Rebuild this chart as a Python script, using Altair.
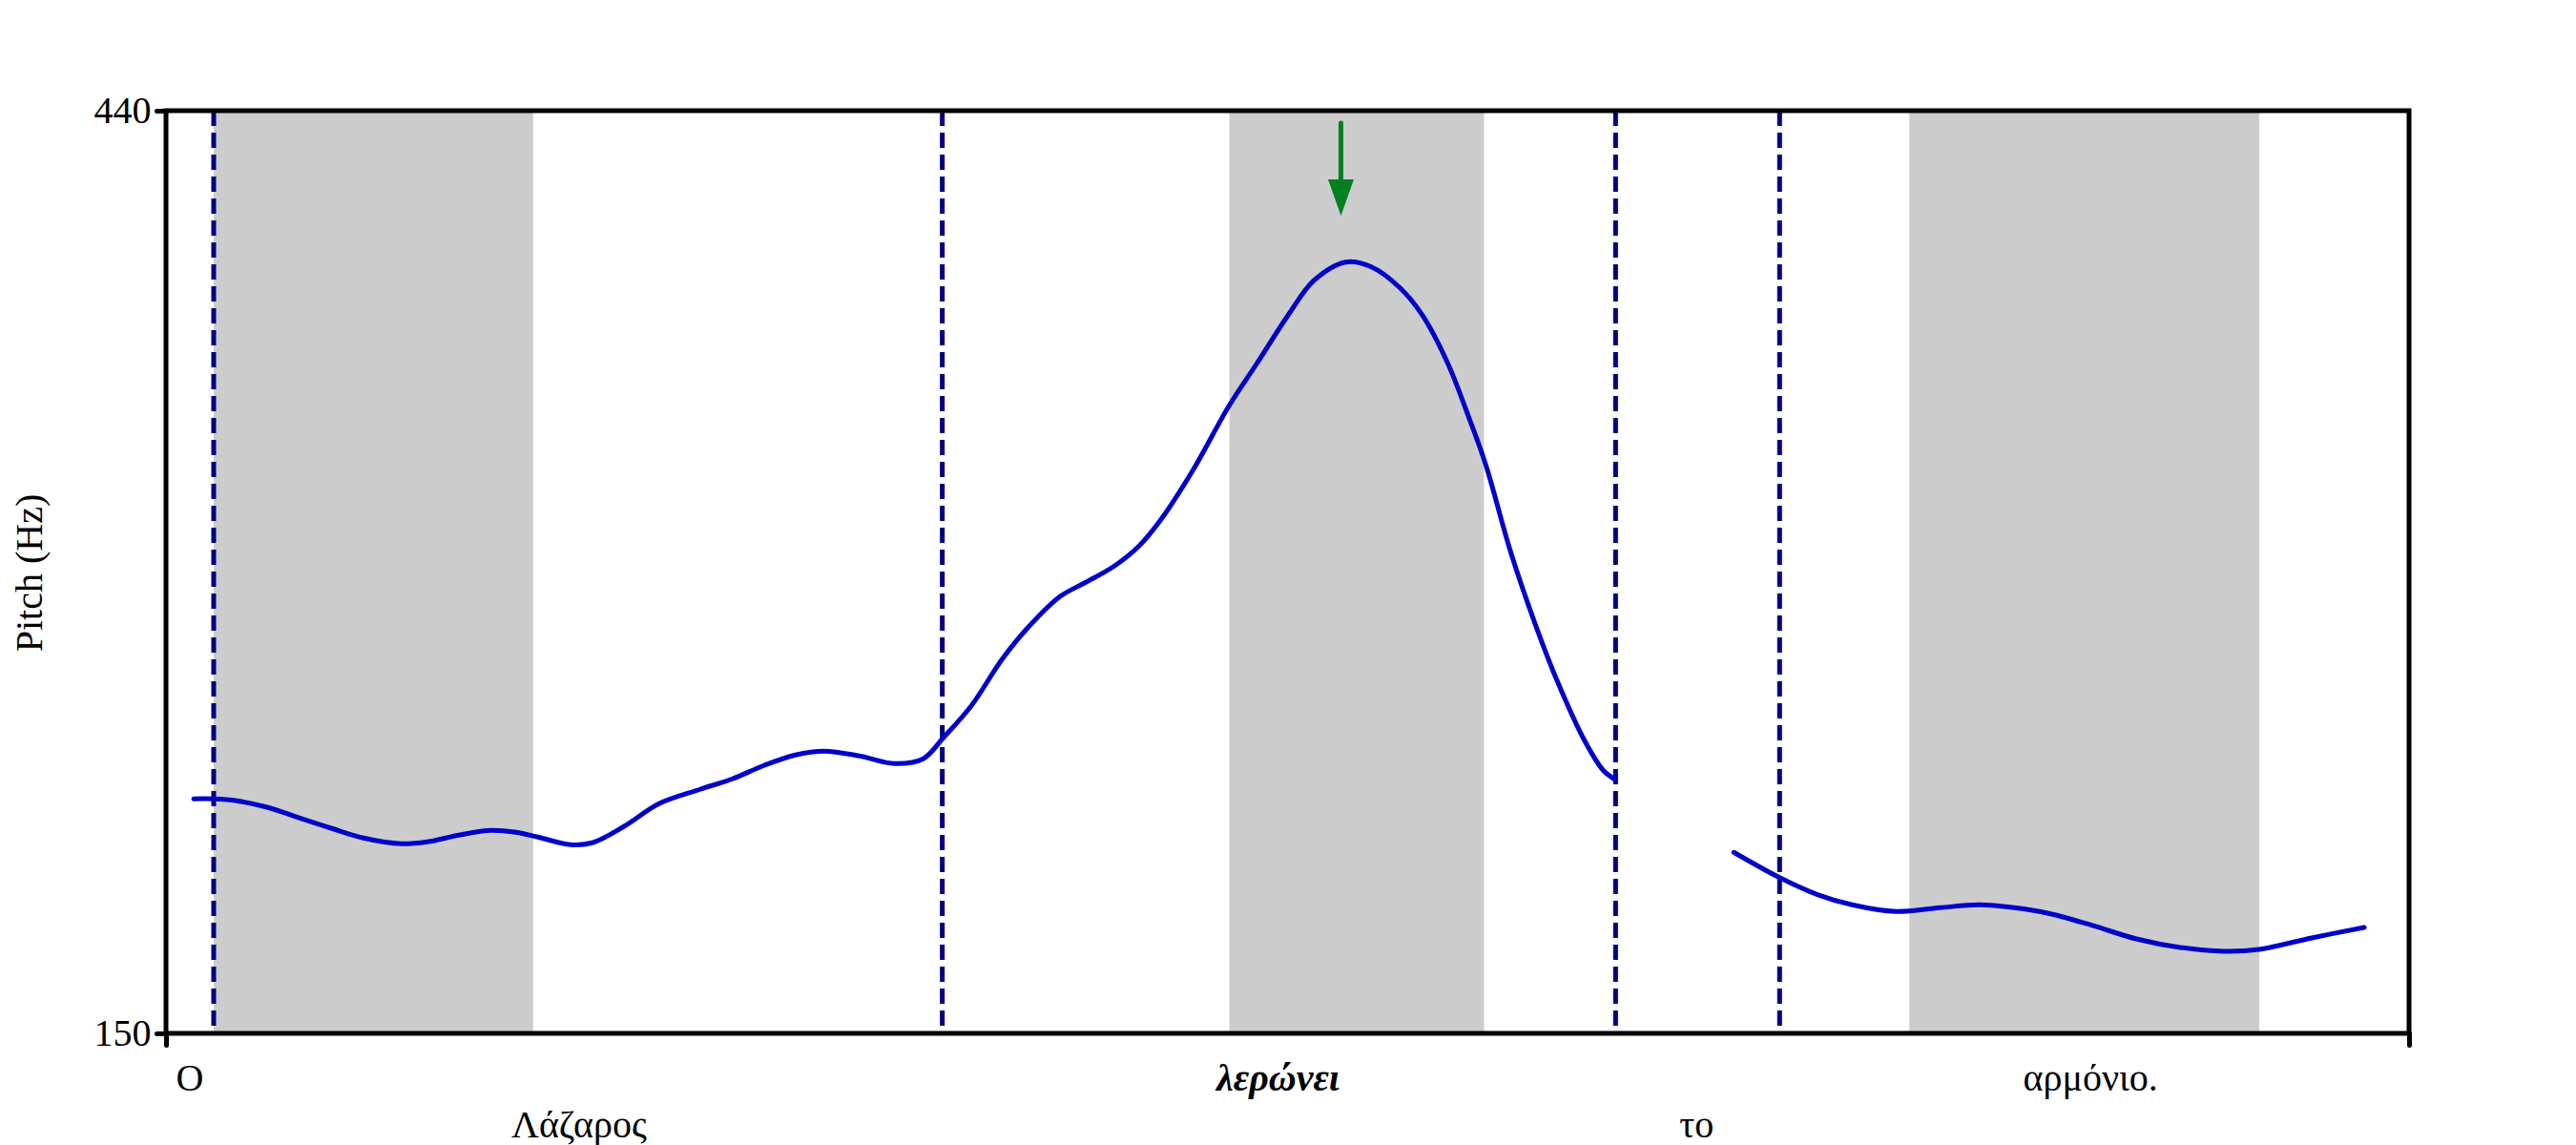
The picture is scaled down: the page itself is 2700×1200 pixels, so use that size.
import altair as alt
import pandas as pd

# ---------------- data (time in s, pitch in Hz) ----------------
seg1_t = [0.029, 0.050, 0.074, 0.107, 0.140, 0.174, 0.207, 0.247, 0.274, 0.307,
          0.340, 0.367, 0.390, 0.424, 0.447, 0.480, 0.517, 0.560, 0.594, 0.627,
          0.660, 0.690, 0.727, 0.764, 0.794, 0.815, 0.844, 0.877, 0.904, 0.937,
          0.964, 0.994, 1.020, 1.044, 1.077, 1.115, 1.144, 1.177, 1.204, 1.237,
          1.264, 1.294, 1.317, 1.344, 1.367, 1.384, 1.410, 1.437, 1.460, 1.487,
          1.507, 1.520]
seg1_hz = [223.7, 223.7, 223.1, 221.0, 217.7, 214.4, 211.4, 209.6, 210.2, 212.3,
           213.8, 213.2, 211.7, 209.3, 209.9, 215.0, 222.2, 226.7, 230.0, 234.2,
           237.5, 238.7, 237.2, 234.8, 236.3, 242.9, 252.8, 267.7, 277.6, 287.2,
           291.7, 296.8, 303.1, 311.8, 327.1, 347.4, 360.6, 375.9, 386.7, 392.4,
           390.9, 384.3, 375.9, 360.6, 342.9, 328.6, 301.3, 277.6, 259.9, 242.3,
           232.7, 229.7]
seg2_t = [1.644, 1.691, 1.731, 1.768, 1.814, 1.860, 1.901, 1.938, 1.974, 2.020,
          2.066, 2.112, 2.158, 2.195, 2.250, 2.305]
seg2_hz = [206.9, 199.1, 193.7, 190.4, 188.3, 189.5, 190.4, 189.5, 187.7, 183.9,
           179.7, 177.0, 175.8, 176.4, 180.0, 183.3]

boundaries = [0.050, 0.814, 1.520, 1.692]
band_start = [0.050, 1.115, 1.828]
band_end = [0.385, 1.382, 2.195]

word_labels = ["Ο", "Λάζαρος", "λερώνει", "το", "αρμόνιο."]
word_t = [0.025, 0.433, 1.166, 1.605, 2.018]
word_row = [1, 2, 1, 2, 1]
word_emph = [False, False, True, False, False]

arrow_t = [1.232]
arrow_top = [436.1]
arrow_shaft_end = [416.0]
arrow_head_mid = [412.7]

t_range = [0.0, 2.352]
hz_ticks = [150, 440]

# ---------------- tables ----------------
pitch = pd.concat([
    pd.DataFrame({"t": seg1_t, "hz": seg1_hz, "seg": "a"}),
    pd.DataFrame({"t": seg2_t, "hz": seg2_hz, "seg": "b"}),
])
bounds = pd.DataFrame({"t": boundaries})
bands = pd.DataFrame({"t": band_start, "t2": band_end})
words = pd.DataFrame({"t": word_t, "label": word_labels, "row": word_row, "emph": word_emph})
arrow = pd.DataFrame({"t": arrow_t, "top": arrow_top, "bot": arrow_shaft_end, "mid": arrow_head_mid})
frame = pd.DataFrame({"k": [0]})

W, H = 2351, 967
FONT = "Liberation Serif"

xs = alt.Scale(domain=t_range, nice=False, zero=False)
ys = alt.Scale(domain=[hz_ticks[0], hz_ticks[1]], nice=False, zero=False)
xax = alt.Axis(values=t_range, labels=False, domain=False, grid=False, title="",
               tickSize=12, tickWidth=5, tickColor="black", tickCap="round")
yax = alt.Axis(values=hz_ticks, domain=False, grid=False, title="Pitch (Hz)",
               tickSize=10, tickWidth=5, tickColor="black", tickCap="round",
               labelFont=FONT, labelFontSize=40, labelColor="black", labelPadding=6,
               titleFont=FONT, titleFontSize=40, titleFontWeight="normal", titleColor="black",
               titleX=-143, titleY=484, titleAngle=-90, titleAlign="center", titleBaseline="middle")


def X(f):
    return alt.X(f, type="quantitative", scale=xs, axis=xax)


def Y(f):
    return alt.Y(f, type="quantitative", scale=ys, axis=yax)


band_layer = alt.Chart(bands).mark_rect(color="#CCCCCC").encode(
    x=X("t"), x2="t2", y=alt.datum(440, scale=ys, axis=yax), y2=alt.datum(150)
)
bound_layer = alt.Chart(bounds).mark_rule(color="#000080", strokeWidth=5, strokeDash=[16, 7]).encode(
    x=X("t")
)
line_layer = alt.Chart(pitch).mark_line(color="#0000C8", strokeWidth=5, interpolate="catmull-rom",
                                        strokeCap="round").encode(
    x=X("t"), y=Y("hz"), detail="seg:N"
)
shaft = alt.Chart(arrow).mark_rule(color="#008020", strokeWidth=5, strokeCap="round").encode(
    x=X("t"), y=Y("top"), y2="bot"
)
head = alt.Chart(arrow).mark_point(shape="M-0.71,-1L0.71,-1L0,1Z", filled=True, size=1444,
                                   color="#008020", opacity=1).encode(
    x=X("t"), y=Y("mid")
)
frame_layer = alt.Chart(frame).mark_rect(filled=False, color="black", strokeWidth=5).encode(
    x=alt.value(0), x2=alt.value(W), y=alt.value(0), y2=alt.value(H)
)
txt_kw = dict(font=FONT, fontSize=40, align="center", baseline="alphabetic", color="black")
row1 = alt.Chart(words).transform_filter("datum.row == 1 && !datum.emph").mark_text(**txt_kw).encode(
    x=X("t"), y=alt.value(1027), text="label:N"
)
row2 = alt.Chart(words).transform_filter("datum.row == 2").mark_text(**txt_kw).encode(
    x=X("t"), y=alt.value(1076), text="label:N"
)
emph = alt.Chart(words).transform_filter("datum.emph").mark_text(
    fontStyle="italic", fontWeight="bold", **txt_kw).encode(
    x=X("t"), y=alt.value(1027), text="label:N"
)

chart = alt.layer(band_layer, bound_layer, line_layer, shaft, head, frame_layer, row1, row2, emph).properties(
    width=W, height=H,
    autosize="none",
    padding={"left": 166, "top": 108, "right": 150, "bottom": 120},
).configure_view(stroke=None).configure(background="white")

chart.save("out.html", embed_options={"renderer": "svg", "actions": False})
